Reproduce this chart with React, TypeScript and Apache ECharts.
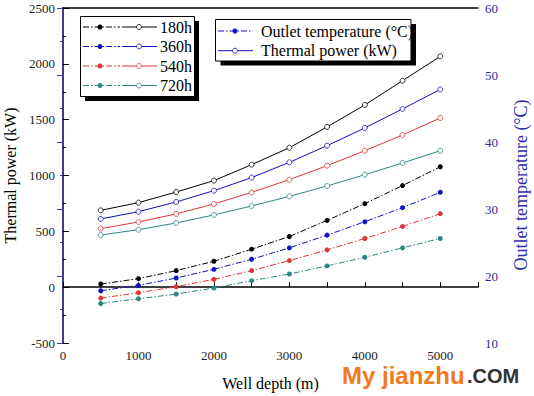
import React, { useEffect, useRef } from "react";
import * as echarts from "echarts";

const depths = [500, 1000, 1500, 2000, 2500, 3000, 3500, 4000, 4500, 5000];
const hours = ["180h", "360h", "540h", "720h"];
const colors = ["#000000", "#1010c8", "#e03535", "#2a8a82"];

const power180 = [688, 757, 852, 954, 1097, 1249, 1435, 1632, 1849, 2067];
const power360 = [611, 676, 763, 864, 981, 1118, 1267, 1426, 1596, 1771];
const power540 = [524, 584, 656, 745, 849, 963, 1088, 1222, 1363, 1515];
const power720 = [467, 515, 575, 647, 727, 813, 906, 1007, 1112, 1222];

const temp180 = [18.8, 19.6, 20.8, 22.2, 24.0, 25.9, 28.3, 30.8, 33.5, 36.3];
const temp360 = [17.8, 18.6, 19.7, 21.0, 22.5, 24.2, 26.1, 28.1, 30.2, 32.5];
const temp540 = [16.7, 17.5, 18.4, 19.5, 20.8, 22.3, 23.9, 25.6, 27.4, 29.3];
const temp720 = [15.9, 16.6, 17.3, 18.2, 19.3, 20.3, 21.5, 22.8, 24.2, 25.6];

const powers = [power180, power360, power540, power720];
const temps = [temp180, temp360, temp540, temp720];

const legend2Labels = ["Outlet temperature (\u00B0C)", "Thermal power (kW)"];
const rightAxisName = "Outlet temperature (\u00B0C)";

const SERIF = "'Liberation Serif', 'Times New Roman', serif";
const AXIS_BLUE = "#3c3c9c";
const DASHDOT = [6, 2, 1.5, 2];

export default function App() {
  const ref = useRef<HTMLDivElement>(null);

  useEffect(() => {
    if (!ref.current) return;
    const chart = echarts.init(ref.current, undefined, { renderer: "svg" });

    const series: any[] = [];
    hours.forEach((h, i) => {
      series.push({
        name: "Thermal power " + h,
        type: "line",
        yAxisIndex: 0,
        data: depths.map((d, k) => [d, powers[i][k]]),
        symbol: "circle",
        symbolSize: 5,
        itemStyle: { color: "#ffffff", borderColor: colors[i], borderWidth: 0.8 },
        lineStyle: { color: colors[i], width: 1, type: "solid" },
        z: 3,
      });
      series.push({
        name: "Outlet temperature " + h,
        type: "line",
        yAxisIndex: 1,
        data: depths.map((d, k) => [d, temps[i][k]]),
        symbol: "circle",
        symbolSize: 5,
        itemStyle: { color: colors[i], borderColor: colors[i], borderWidth: 0 },
        lineStyle: { color: colors[i], width: 1, type: DASHDOT },
        z: 3,
      });
    });

    const graphic: any[] = [];
    // Legend 1
    const l1x = 80.5, l1y = 16.5, l1w = 114, l1h = 80;
    graphic.push({ type: "rect", shape: { x: l1x + 4.5, y: l1y + 4.5, width: l1w, height: l1h }, style: { fill: "#000" }, z: 10 });
    graphic.push({ type: "rect", shape: { x: l1x, y: l1y, width: l1w, height: l1h }, style: { fill: "#fff", stroke: "#000", lineWidth: 1 }, z: 11 });
    hours.forEach((h, i) => {
      const y = 27 + i * 19.5;
      graphic.push({ type: "line", shape: { x1: 83, y1: y, x2: 120, y2: y }, style: { stroke: colors[i], lineWidth: 1, lineDash: DASHDOT }, z: 12 });
      graphic.push({ type: "circle", shape: { cx: 100, cy: y, r: 2.5 }, style: { fill: colors[i] }, z: 13 });
      graphic.push({ type: "line", shape: { x1: 122, y1: y, x2: 157, y2: y }, style: { stroke: colors[i], lineWidth: 1 }, z: 12 });
      graphic.push({ type: "circle", shape: { cx: 139, cy: y, r: 2.5 }, style: { fill: "#fff", stroke: colors[i], lineWidth: 0.8 }, z: 13 });
      graphic.push({ type: "text", x: 160, y: y, style: { text: h, font: "16px " + SERIF, fill: "#000", verticalAlign: "middle", textVerticalAlign: "middle" }, z: 13 });
    });
    // Legend 2
    const l2x = 215.5, l2y = 19.5, l2w = 195.5, l2h = 41.5;
    graphic.push({ type: "rect", shape: { x: l2x + 5, y: l2y + 4.5, width: l2w, height: l2h }, style: { fill: "#000" }, z: 10 });
    graphic.push({ type: "rect", shape: { x: l2x, y: l2y, width: l2w, height: l2h }, style: { fill: "#fff", stroke: "#000", lineWidth: 1 }, z: 11 });
    legend2Labels.forEach((t, i) => {
      const y = 31 + i * 19.7;
      graphic.push({ type: "line", shape: { x1: 218, y1: y, x2: 253, y2: y }, style: { stroke: colors[1], lineWidth: 1, lineDash: i === 0 ? DASHDOT : null }, z: 12 });
      if (i === 0) {
        graphic.push({ type: "circle", shape: { cx: 235, cy: y, r: 2.5 }, style: { fill: colors[1] }, z: 13 });
      } else {
        graphic.push({ type: "circle", shape: { cx: 235, cy: y, r: 2.5 }, style: { fill: "#fff", stroke: colors[1], lineWidth: 0.8 }, z: 13 });
      }
      graphic.push({ type: "text", x: 261, y: y, style: { text: t, font: "16px " + SERIF, fill: "#000", verticalAlign: "middle", textVerticalAlign: "middle" }, z: 13 });
    });
    // Right axis name
    graphic.push({
      type: "text",
      x: 521,
      y: 185,
      rotation: Math.PI / 2,
      style: { text: rightAxisName, font: "18px " + SERIF, fill: "#2c2cb0", align: "center", verticalAlign: "middle", textAlign: "center", textVerticalAlign: "middle" },
      z: 13,
    });
    // Watermark
    graphic.push({ type: "text", x: 342, y: 375, style: { text: "My jianzhu", font: "bold 24px 'Liberation Sans', Arial, sans-serif", fill: "#f27a1e", verticalAlign: "middle", textVerticalAlign: "middle", lineHeight: 16 }, z: 20 });
    graphic.push({ type: "text", x: 467, y: 376, style: { text: ".COM", font: "bold 20px 'Liberation Sans', Arial, sans-serif", fill: "#333333", verticalAlign: "middle", textVerticalAlign: "middle", lineHeight: 14 }, z: 20 });

    chart.setOption({
      animation: false,
      backgroundColor: "#ffffff",
      textStyle: { fontFamily: SERIF },
      grid: { left: 63, right: 56, top: 8, bottom: 53, containLabel: false, outerBoundsMode: "none" },
      xAxis: [
        {
          type: "value",
          min: 0,
          max: 5500,
          interval: 500,
          position: "bottom",
          name: "Well depth (m)",
          nameLocation: "middle",
          nameGap: 32,
          nameTextStyle: { fontSize: 16, color: "#000", fontFamily: SERIF },
          axisLine: { show: true, lineStyle: { color: "#000", width: 1.5 } },
          axisTick: { show: true, inside: true, length: 5, lineStyle: { color: "#000", width: 1 } },
          axisLabel: {
            fontSize: 13,
            color: "#222",
            fontFamily: SERIF,
            margin: 6,
            formatter: (v: number) => (v % 1000 === 0 && v <= 5000 ? String(v) : ""),
          },
          splitLine: { show: false },
        },
        {
          type: "value",
          min: 0,
          max: 5500,
          position: "top",
          axisLine: { show: true, lineStyle: { color: "#000", width: 1.5 } },
          axisTick: { show: false },
          axisLabel: { show: false },
          splitLine: { show: false },
        },
      ],
      yAxis: [
        {
          type: "value",
          min: -500,
          max: 2500,
          interval: 500,
          position: "left",
          name: "Thermal power (kW)",
          nameLocation: "middle",
          nameGap: 36,
          nameTextStyle: { fontSize: 16, color: "#000", fontFamily: SERIF },
          axisLine: { show: true, lineStyle: { color: "#000", width: 1.5 } },
          axisTick: { show: true, inside: true, length: 6, lineStyle: { color: "#000", width: 1 } },
          minorTick: { show: true, splitNumber: 2, length: 3, lineStyle: { color: "#000", width: 1 } },
          axisLabel: { fontSize: 13, color: "#222", fontFamily: SERIF, margin: 8, formatter: (v: number) => String(v) },
          splitLine: { show: false },
        },
        {
          type: "value",
          min: 10,
          max: 60,
          interval: 10,
          position: "right",
          axisLine: { show: true, lineStyle: { color: AXIS_BLUE, width: 1.5 } },
          axisTick: { show: true, inside: true, length: 6, lineStyle: { color: AXIS_BLUE, width: 1 } },
          minorTick: { show: true, splitNumber: 2, length: 3, lineStyle: { color: AXIS_BLUE, width: 1 } },
          axisLabel: { fontSize: 13, color: "#2c2c9c", fontFamily: SERIF, margin: 7, formatter: (v: number) => String(v) },
          splitLine: { show: false },
        },
      ],
      series,
      graphic,
    });

    return () => chart.dispose();
  }, []);

  return (
    <div
      ref={ref}
      style={{ position: "fixed", left: 0, top: 0, width: 534, height: 396, background: "#fff" }}
    />
  );
}
